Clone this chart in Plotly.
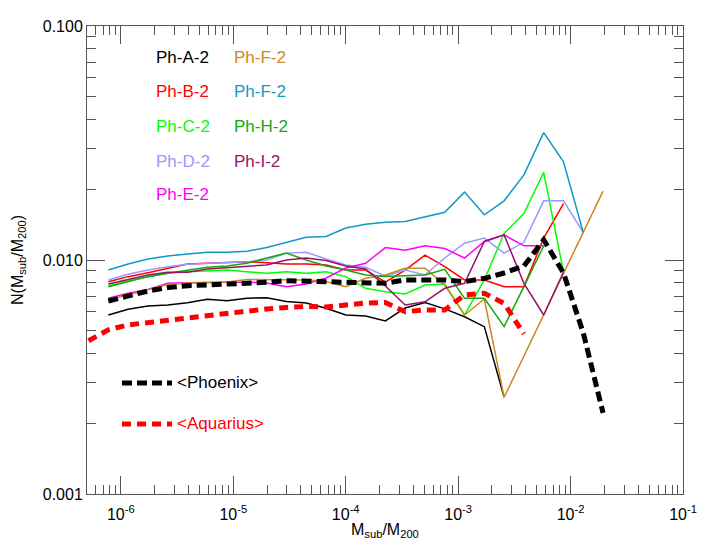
import plotly.graph_objects as go

# ---------------- data ----------------
mass_ratio = [7.74e-7, 1.161e-6, 1.742e-6, 2.612e-6, 3.917e-6, 5.875e-6, 8.81e-6,
              1.321e-5, 1.982e-5, 2.972e-5, 4.457e-5, 6.683e-5, 1.002e-4, 1.503e-4,
              2.254e-4, 3.381e-4, 5.070e-4, 7.603e-4, 1.140e-3, 1.710e-3, 2.564e-3,
              3.846e-3, 5.768e-3, 8.650e-3, 1.297e-2, 1.945e-2]

aq_mass_ratio = [5.16e-7, 7.74e-7, 1.161e-6, 1.742e-6, 2.612e-6, 3.917e-6, 5.875e-6, 8.81e-6,
                 1.321e-5, 1.982e-5, 2.972e-5, 4.457e-5, 6.683e-5, 1.002e-4, 1.503e-4,
                 2.254e-4, 3.381e-4, 5.070e-4, 7.603e-4, 1.140e-3, 1.710e-3, 2.564e-3,
                 3.846e-3]

ph_a = [0.00582, 0.00616, 0.00636, 0.00642, 0.00657, 0.00679, 0.00670, 0.00686, 0.00690,
        0.00665, 0.00655, 0.00622, 0.00582, 0.00576, 0.00549, 0.00624, 0.00658, 0.00618,
        0.00572, 0.00519, 0.00259]
ph_b = [0.00808, 0.00849, 0.00883, 0.00922, 0.00961, 0.00968, 0.00978, 0.00983, 0.00974,
        0.00961, 0.00961, 0.00952, 0.00906, 0.00906, 0.00805, 0.00906, 0.0105, 0.00936,
        0.00822, 0.00822, 0.00769, 0.00769, 0.0124, 0.0174]
ph_c = [0.00774, 0.00816, 0.00849, 0.00877, 0.00891, 0.00900, 0.00906, 0.00891, 0.00877,
        0.00891, 0.00877, 0.00891, 0.00849, 0.00757, 0.00732, 0.00716, 0.00782, 0.00790,
        0.00582, 0.00822, 0.0130, 0.0158, 0.0237, 0.00889]
ph_d = [0.00822, 0.00869, 0.00906, 0.00936, 0.00959, 0.00968, 0.00974, 0.00983, 0.0100,
        0.0107, 0.0108, 0.0101, 0.00952, 0.00931, 0.00852, 0.00906, 0.00863, 0.0102,
        0.0118, 0.0124, 0.0107, 0.0119, 0.0179, 0.0179, 0.0131]
ph_e = [0.00686, 0.00721, 0.00749, 0.00795, 0.00800, 0.00803, 0.00803, 0.00803, 0.00798,
        0.00769, 0.00790, 0.00838, 0.00924, 0.00968, 0.0113, 0.0110, 0.0115, 0.0112,
        0.0102, 0.0120, 0.0128, 0.0115, 0.0115]
ph_f = [0.00675, 0.00709, 0.00745, 0.00786, 0.00798, 0.00801, 0.00805, 0.00826, 0.00826,
        0.00822, 0.00822, 0.00809, 0.00769, 0.00835, 0.00863, 0.00922, 0.00922, 0.00782,
        0.00582, 0.00681, 0.00259, None, None, None, None, 0.0197]
ph_g = [0.00906, 0.00961, 0.0101, 0.0104, 0.0106, 0.0108, 0.0108, 0.0109, 0.0113, 0.0119,
        0.0125, 0.0126, 0.0137, 0.0142, 0.0145, 0.0146, 0.0153, 0.0160, 0.0195, 0.0156,
        0.0179, 0.0231, 0.0350, 0.0263, 0.0131]
ph_h = [0.00769, 0.00808, 0.00849, 0.00877, 0.00906, 0.00931, 0.00943, 0.00968, 0.0102,
        0.0107, 0.0100, 0.00943, 0.00906, 0.00863, 0.00850, 0.00854, 0.00863, 0.00913,
        0.00686, 0.00686, 0.00519, 0.00769, 0.0115]
ph_i = [0.00790, 0.00827, 0.00863, 0.00886, 0.00886, 0.00915, 0.00927, 0.00936, 0.00952,
        0.0100, 0.0102, 0.00995, 0.00943, 0.00915, 0.00774, 0.00642, 0.00663, 0.00757,
        0.00795, 0.0120, 0.0128, 0.00795, 0.00582, 0.00889]
phoenix_mean = [0.00668, 0.00704, 0.00737, 0.00762, 0.00777, 0.00782, 0.00787, 0.00795,
                0.00803, 0.00816, 0.00813, 0.00808, 0.00801, 0.00798, 0.00795, 0.00822,
                0.00822, 0.00822, 0.00808, 0.00835, 0.00880, 0.00943, 0.0122, 0.00880,
                0.00488, 0.00222]
aquarius_mean = [0.00452, 0.00503, 0.00528, 0.00540, 0.00558, 0.00569, 0.00582, 0.00592,
                 0.00605, 0.00618, 0.00627, 0.00633, 0.00630, 0.00642, 0.00655, 0.00658,
                 0.00601, 0.00612, 0.00612, 0.00709, 0.00721, 0.00653, 0.00483]

series_names = ["Ph-A-2", "Ph-B-2", "Ph-C-2", "Ph-D-2", "Ph-E-2",
                "Ph-F-2", "Ph-F-2", "Ph-H-2", "Ph-I-2"]
series_values = [ph_a, ph_b, ph_c, ph_d, ph_e, ph_f, ph_g, ph_h, ph_i]
series_colors = ["#000000", "#FF0000", "#00FF00", "#9999FF", "#FF00FF",
                 "#CC8822", "#1199C4", "#11AA11", "#991166"]

x_tick_vals = [1e-6, 1e-5, 1e-4, 1e-3, 1e-2, 1e-1]
x_tick_text = ["10<sup>-6</sup>", "10<sup>-5</sup>", "10<sup>-4</sup>",
               "10<sup>-3</sup>", "10<sup>-2</sup>", "10<sup>-1</sup>"]
y_tick_vals = [0.001, 0.01, 0.1]
y_tick_text = ["0.001", "0.010", "0.100"]

# ---------------- figure ----------------
FONT = "Liberation Sans, Arial, Helvetica, sans-serif"
fig = go.Figure()

for name, vals, col in zip(series_names, series_values, series_colors):
    fig.add_trace(go.Scatter(x=mass_ratio[:len(vals)], y=vals, mode="lines", name=name,
                             connectgaps=True, line=dict(color=col, width=1.5)))

fig.add_trace(go.Scatter(x=mass_ratio, y=phoenix_mean, mode="lines", name="<Phoenix>",
                         line=dict(color="#000000", width=5, dash="10px,5px")))
fig.add_trace(go.Scatter(x=aq_mass_ratio, y=aquarius_mean, mode="lines", name="<Aquarius>",
                         line=dict(color="#FF0000", width=5, dash="9px,6px")))

minor_x = [m * 10.0 ** e for e in range(-7, -1) for m in range(2, 10)]
minor_y = [m * 10.0 ** e for e in range(-3, -1) for m in range(2, 10)]
axis_col = "#555555"

fig.update_xaxes(type="log", range=[-6.301, -1], tickmode="array",
                 tickvals=x_tick_vals, ticktext=x_tick_text,
                 ticks="inside", ticklen=18, tickwidth=1, tickcolor=axis_col,
                 ticklabelstandoff=6,
                 minor=dict(tickmode="array", tickvals=minor_x, ticks="inside",
                            ticklen=9, tickwidth=1, tickcolor=axis_col, showgrid=False),
                 showline=True, linecolor=axis_col, linewidth=1, mirror="allticks",
                 showgrid=False, zeroline=False,
                 tickfont=dict(family=FONT, size=16, color="#000000"))
fig.update_yaxes(type="log", range=[-3, -1], tickmode="array",
                 tickvals=y_tick_vals, ticktext=y_tick_text,
                 ticks="inside", ticklen=18, tickwidth=1, tickcolor=axis_col,
                 minor=dict(tickmode="array", tickvals=minor_y, ticks="inside",
                            ticklen=9, tickwidth=1, tickcolor=axis_col, showgrid=False),
                 showline=True, linecolor=axis_col, linewidth=1, mirror="allticks",
                 showgrid=False, zeroline=False,
                 tickfont=dict(family=FONT, size=16, color="#000000"))

# legend-like labels (text columns as in the reference)
label_pos_x = [0.1124, 0.1124, 0.1124, 0.1124, 0.1124, 0.2433, 0.2433, 0.2433, 0.2433]
label_pos_y = [0.9331, 0.8596, 0.7848, 0.7100, 0.6389, 0.9331, 0.8596, 0.7848, 0.7100]
for name, col, lx, ly in zip(series_names, series_colors, label_pos_x, label_pos_y):
    fig.add_annotation(x=lx, y=ly, xref="paper", yref="paper", text=name, showarrow=False,
                       xanchor="left", yanchor="middle",
                       font=dict(family=FONT, size=17, color=col))

fig.add_shape(type="line", xref="paper", yref="paper", x0=0.0587, x1=0.1426, y0=0.2372, y1=0.2372,
              line=dict(color="#000000", width=5, dash="10px,5px"))
fig.add_shape(type="line", xref="paper", yref="paper", x0=0.0587, x1=0.1426, y0=0.1496, y1=0.1496,
              line=dict(color="#FF0000", width=5, dash="9px,6px"))
fig.add_annotation(x=0.1477, y=0.2372, xref="paper", yref="paper", text="&lt;Phoenix&gt;",
                   showarrow=False, xanchor="left", yanchor="middle",
                   font=dict(family=FONT, size=17, color="#000000"))
fig.add_annotation(x=0.1477, y=0.1496, xref="paper", yref="paper", text="&lt;Aquarius&gt;",
                   showarrow=False, xanchor="left", yanchor="middle",
                   font=dict(family=FONT, size=17, color="#FF0000"))

# axis titles
fig.add_annotation(x=0.5, y=-0.077, xref="paper", yref="paper",
                   text="M<sub>sub</sub>/M<sub>200</sub>", showarrow=False,
                   xanchor="center", yanchor="middle",
                   font=dict(family=FONT, size=16, color="#000000"))
fig.add_annotation(x=-0.1158, y=0.5, xref="paper", yref="paper",
                   text="N(M<sub>sub</sub>/M<sub>200</sub>)", showarrow=False, textangle=-90,
                   xanchor="center", yanchor="middle",
                   font=dict(family=FONT, size=16, color="#000000"))

# the page adds an 8px body margin, so margins are offset to land the axes where the reference has them
fig.update_layout(width=709, height=550, showlegend=False,
                  margin=dict(l=79, r=34, t=18, b=64, autoexpand=False),
                  paper_bgcolor="white", plot_bgcolor="white")

fig.write_html("out.html")
